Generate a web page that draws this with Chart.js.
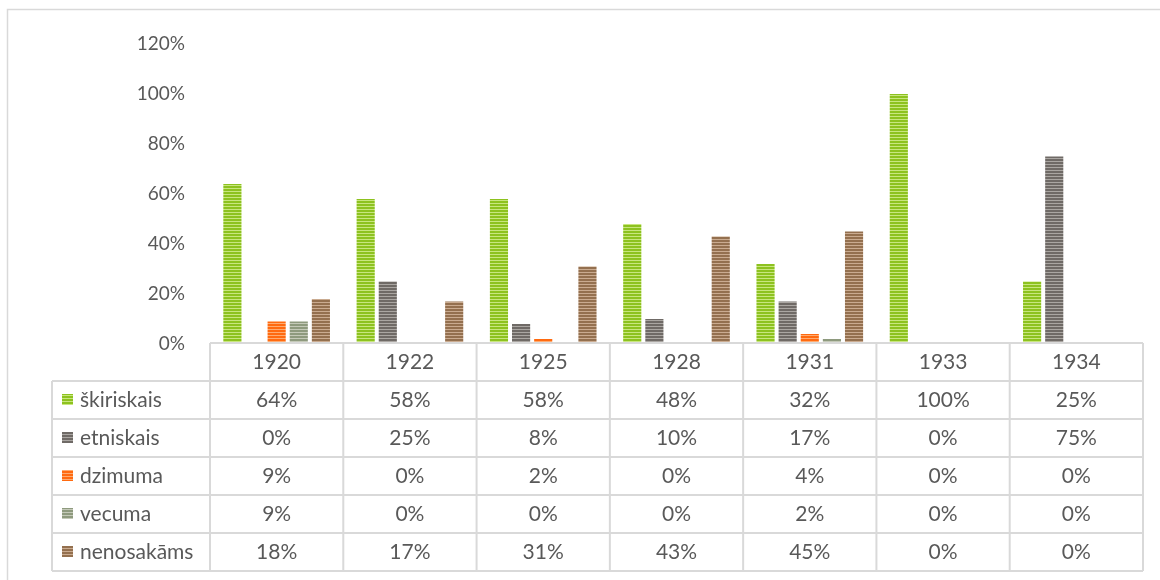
<!DOCTYPE html>
<html>
<head>
<meta charset="utf-8">
<script src="https://cdn.jsdelivr.net/npm/chart.js@4.4.0/dist/chart.umd.min.js"></script>
<style>
  body { margin: 0; background: #fff; }
  canvas { display: block; }
</style>
</head>
<body>
<canvas id="chart" width="1160" height="580"></canvas>
<script>
// dati no attēla
const years = ['1920', '1922', '1925', '1928', '1931', '1933', '1934'];
const skiriskais = [64, 58, 58, 48, 32, 100, 25];
const etniskais = [0, 25, 8, 10, 17, 0, 75];
const dzimuma = [9, 0, 2, 0, 4, 0, 0];
const vecuma = [9, 0, 0, 0, 2, 0, 0];
const nenosakams = [18, 17, 31, 43, 45, 0, 0];
const seriesNames = ['škiriskais', 'etniskais', 'dzimuma', 'vecuma', 'nenosakāms'];
const yMax = 120;
const yStep = 20;

const textColor = '#595959';
const lineColor = '#d9d9d9';
const fontFamily = 'Lato, "Open Sans", sans-serif';

// svītrainas krāsas (pamatkrāsa + gaišā svītra)
const stripeColors = [
  ['#8dc21f', '#c8e67e'],
  ['#6f6a66', '#aaa6a2'],
  ['#ff6a10', '#ffab70'],
  ['#8e9a7e', '#c4c9b8'],
  ['#94704f', '#caab90']
];

function makePattern(base, light) {
  const c = document.createElement('canvas');
  c.width = 1;
  c.height = 3;
  const g = c.getContext('2d');
  g.fillStyle = base;
  g.fillRect(0, 0, 1, 2);
  g.fillStyle = light;
  g.fillRect(0, 2, 1, 1);
  return g.createPattern(c, 'repeat');
}

const ctx = document.getElementById('chart').getContext('2d');
const patterns = stripeColors.map(p => makePattern(p[0], p[1]));
const seriesData = [skiriskais, etniskais, dzimuma, vecuma, nenosakams];

// tabula zem grafika
const tablePlugin = {
  id: 'dataTable',
  beforeDraw(chart) {
    const c = chart.ctx;
    c.save();
    c.fillStyle = '#fff';
    c.fillRect(0, 0, chart.width, chart.height);
    c.strokeStyle = lineColor;
    c.lineWidth = 1.5;
    c.strokeRect(7.5, 9.5, chart.width + 20, chart.height + 20);
    c.restore();
  },
  afterDraw(chart) {
    const c = chart.ctx;
    const x = chart.scales.x;
    const area = chart.chartArea;
    const colW = (area.right - area.left) / years.length;
    const top = area.bottom - 1;
    const rowH = 38;
    const legendLeft = 52;
    const rows = seriesNames.length;
    const bottom = top + rowH * (rows + 1);

    c.save();
    c.strokeStyle = lineColor;
    c.lineWidth = 2;
    c.beginPath();
    // horizontālās līnijas
    c.moveTo(area.left, top);
    c.lineTo(area.right, top);
    for (let r = 1; r <= rows + 1; r++) {
      c.moveTo(legendLeft, top + rowH * r);
      c.lineTo(area.right, top + rowH * r);
    }
    // vertikālās līnijas
    c.moveTo(legendLeft, top + rowH);
    c.lineTo(legendLeft, bottom);
    for (let i = 0; i <= years.length; i++) {
      const lx = area.left + colW * i;
      c.moveTo(lx, top);
      c.lineTo(lx, bottom);
    }
    c.stroke();

    c.fillStyle = textColor;
    c.font = '21px ' + fontFamily;
    c.textAlign = 'center';
    c.textBaseline = 'middle';
    years.forEach((y, i) => {
      c.fillText(y, x.getPixelForValue(i), top + rowH / 2);
    });

    seriesData.forEach((vals, r) => {
      const cy = top + rowH * (r + 1) + rowH / 2;
      c.fillStyle = patterns[r];
      c.fillRect(62, cy - 6, 11, 11);
      c.fillStyle = textColor;
      c.textAlign = 'left';
      c.fillText(seriesNames[r], 80, cy);
      c.textAlign = 'center';
      vals.forEach((v, i) => {
        c.fillText(v + '%', x.getPixelForValue(i), cy);
      });
    });
    c.restore();
  }
};

new Chart(ctx, {
  type: 'bar',
  data: {
    labels: years,
    datasets: seriesNames.map((name, i) => ({
      label: name,
      data: seriesData[i],
      backgroundColor: patterns[i],
      borderWidth: 0,
      categoryPercentage: 0.83,
      barPercentage: 0.82
    }))
  },
  options: {
    responsive: false,
    animation: false,
    layout: { padding: { left: 0, right: 17, top: 44, bottom: 236 } },
    plugins: {
      legend: { display: false },
      tooltip: { enabled: false }
    },
    scales: {
      x: { display: false },
      y: {
        min: 0,
        max: yMax,
        grid: { display: false, drawTicks: false },
        border: { display: false },
        afterFit(scale) { scale.width = 210; },
        ticks: {
          stepSize: yStep,
          padding: 25,
          color: textColor,
          font: { family: fontFamily, size: 19 },
          callback: v => v + '%'
        }
      }
    }
  },
  plugins: [tablePlugin]
});
</script>
</body>
</html>
